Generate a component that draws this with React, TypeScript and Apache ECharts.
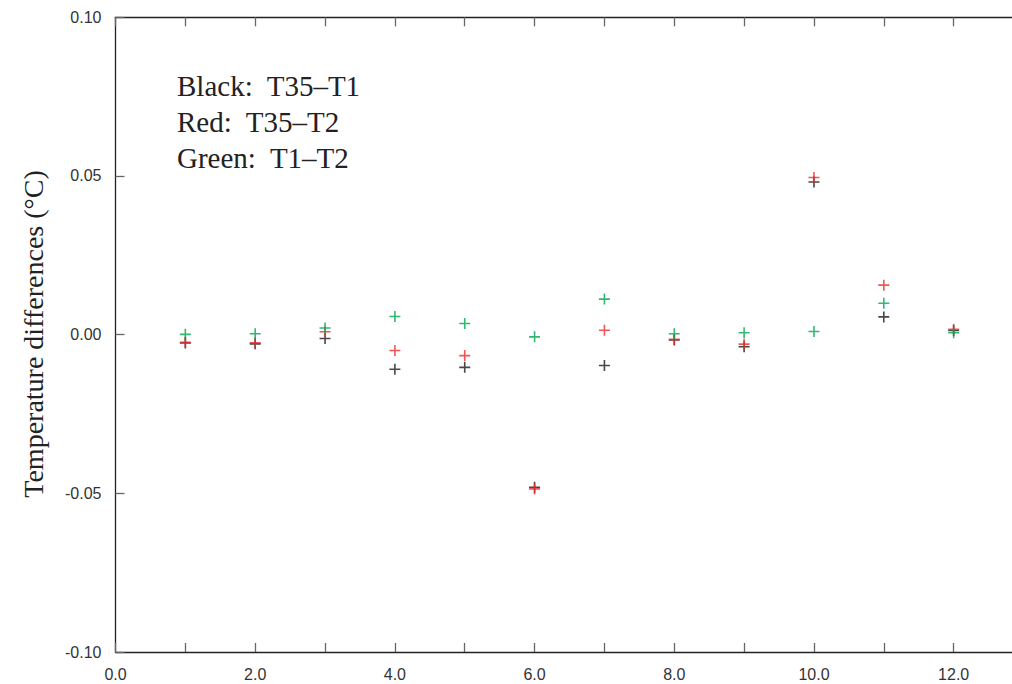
import React, { useEffect, useRef } from "react";
import * as echarts from "echarts";

const xPositions = [1, 2, 3, 4, 5, 6, 7, 8, 9, 10, 11, 12];
const blackT35T1 = [-0.0026, -0.0029, -0.0012, -0.0109, -0.0103, -0.0481, -0.0097, -0.0017, -0.0038, 0.0481, 0.0056, 0.0013];
const redT35T2 = [-0.0024, -0.0026, 0.0009, -0.005, -0.0066, -0.0486, 0.0014, -0.0015, -0.003, 0.0495, 0.0156, 0.0017];
const greenT1T2 = [0.0001, 0.0003, 0.0021, 0.0057, 0.0035, -0.0007, 0.0112, 0.0003, 0.0006, 0.001, 0.0099, 0.0006];
const legendLines = ["Black:  T35\u2013T1", "Red:  T35\u2013T2", "Green:  T1\u2013T2"];
const yTitle = "Temperature differences (\u00b0C)";

const CROSS = "path://M4.7,0 L6.3,0 L6.3,4.7 L11,4.7 L11,6.3 L6.3,6.3 L6.3,11 L4.7,11 L4.7,6.3 L0,6.3 L0,4.7 L4.7,4.7 Z";

function pts(vals: number[]) {
  return xPositions.map((x, i) => [x, vals[i]]);
}

export default function App() {
  const ref = useRef<HTMLDivElement>(null);
  useEffect(() => {
    const chart = echarts.init(ref.current!, undefined, { renderer: "svg" });
    const axisLine = { show: true, onZero: false, lineStyle: { color: "#222", width: 1.3 } };
    const tickStyle = { show: true, inside: true, length: 9, lineStyle: { color: "#666", width: 1.3 } };
    const labelFont = { fontFamily: "Liberation Sans", fontSize: 16, color: "#333" };
    const mk = (name: string, vals: number[], color: string) => ({
      type: "scatter",
      name,
      data: pts(vals),
      symbol: CROSS,
      symbolSize: 11,
      itemStyle: { color },
      emphasis: { disabled: true },
    });
    chart.setOption({
      animation: false,
      backgroundColor: "#fff",
      grid: {
        left: 115.5,
        width: 908,
        top: 17.3,
        bottom: 32,
        containLabel: false,
        outerBoundsMode: "none",
      },
      xAxis: [
        {
          type: "value",
          position: "bottom",
          min: 0,
          max: 13,
          interval: 1,
          axisLine,
          axisTick: tickStyle,
          splitLine: { show: false },
          axisLabel: {
            ...labelFont,
            margin: 14,
            formatter: (v: number) => (v % 2 === 0 && v <= 12 ? v.toFixed(1) : ""),
          },
        },
        {
          type: "value",
          position: "top",
          min: 0,
          max: 13,
          interval: 1,
          axisLine,
          axisTick: tickStyle,
          splitLine: { show: false },
          axisLabel: { show: false },
        },
      ],
      yAxis: [
        {
          type: "value",
          position: "left",
          min: -0.1,
          max: 0.1,
          interval: 0.05,
          axisLine,
          axisTick: tickStyle,
          splitLine: { show: false },
          axisLabel: { ...labelFont, margin: 14, formatter: (v: number) => v.toFixed(2) },
        },
        {
          type: "value",
          position: "right",
          min: -0.1,
          max: 0.1,
          interval: 0.05,
          axisLine,
          axisTick: tickStyle,
          splitLine: { show: false },
          axisLabel: { show: false },
        },
      ],
      series: [
        mk("T35-T1", blackT35T1, "#1a1a1a"),
        mk("T35-T2", redT35T2, "#ee2c2c"),
        mk("T1-T2", greenT1T2, "#00a651"),
      ],
      graphic: [
        ...legendLines.map((t, i) => ({
          type: "text",
          x: 177,
          y: 85.5 + i * 36,
          style: {
            text: t,
            font: "29px 'Liberation Serif'",
            fill: "#222",
            textAlign: "left",
            textVerticalAlign: "middle",
          },
        })),
        {
          type: "text",
          x: 33,
          y: 334,
          rotation: Math.PI / 2,
          style: {
            text: yTitle,
            font: "28px 'Liberation Serif'",
            fill: "#222",
            textAlign: "center",
            textVerticalAlign: "middle",
          },
        },
      ],
    });
    return () => chart.dispose();
  }, []);
  return (
    <div
      ref={ref}
      style={{ position: "fixed", left: 0, top: 0, width: 1012, height: 684, background: "#fff" }}
    />
  );
}
